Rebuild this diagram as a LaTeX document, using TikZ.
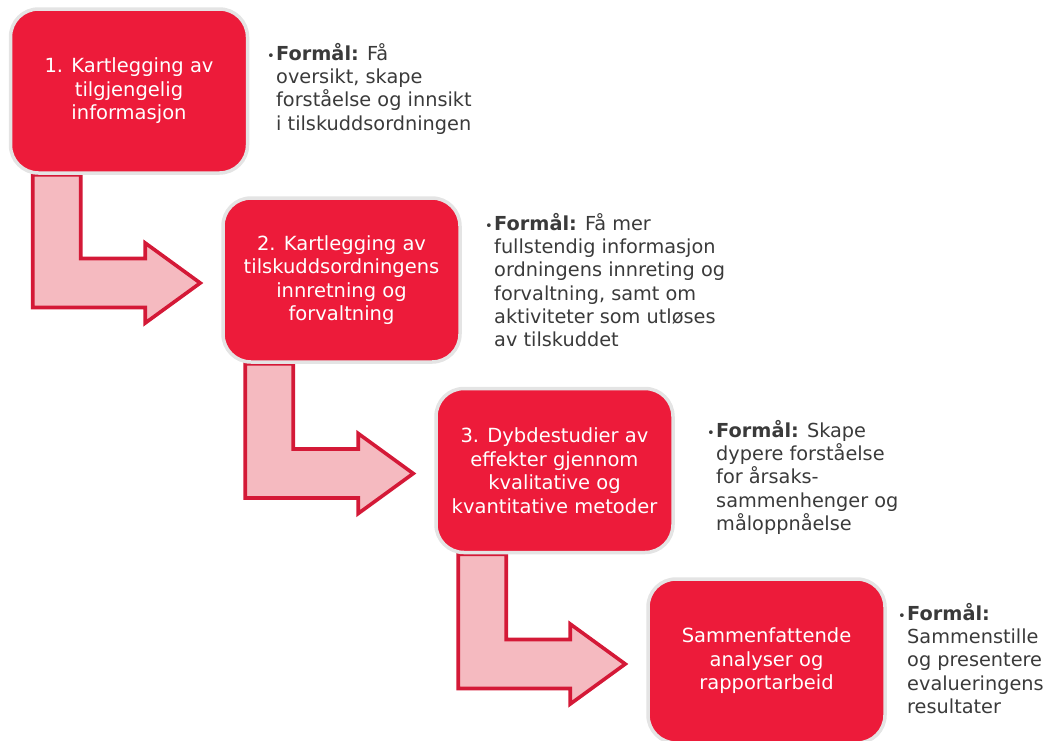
\documentclass[tikz,border=0pt]{standalone}
\usepackage{fontspec}
\setmainfont{DejaVu Sans}
\usetikzlibrary{calc}
\definecolor{crimson}{HTML}{ED1B3A}
\definecolor{arrowline}{HTML}{D41937}
\definecolor{arrowfill}{HTML}{F5BAC0}
\definecolor{rimgray}{HTML}{E4E4E4}
\definecolor{txtgray}{HTML}{3A3A3A}
\pgfdeclarelayer{background}
\pgfsetlayers{background,main}
\tikzset{
  stagebox/.style={rectangle, rounded corners=28pt, fill=crimson, draw=rimgray,
    line width=3.5pt, minimum width=237pt, minimum height=164pt, inner sep=0pt,
    text=white, align=center, font=\fontsize{19.5}{23.5}\selectfont},
  purpose/.style={anchor=north west, inner sep=0pt, align=left, text=txtgray,
    font=\fontsize{19.3}{23.3}\selectfont},
  dot/.style={anchor=base east, inner sep=0pt, text=txtgray, font=\fontsize{13}{14}\selectfont},
  blockarrow/.style={draw=arrowline, fill=arrowfill, line width=3.6pt, line join=miter}
}
\newcommand{\firstline}{\rule{0pt}{15pt}}
\begin{document}
\begin{tikzpicture}[x=1pt,y=-1pt]
\useasboundingbox (0,0) rectangle (1046,740);
\node[stagebox] (b1) at (129,91) {1. Kartlegging av\\tilgjengelig\\informasjon};
\node[stagebox] (b2) at (341.5,280) {2. Kartlegging av\\tilskuddsordningens\\innretning og\\forvaltning};
\node[stagebox] (b3) at (554.5,470.5) {3. Dybdestudier av\\effekter gjennom\\kvalitative og\\kvantitative metoder};
\node[stagebox] (b4) at (766.5,661) {Sammenfattende\\analyser og\\rapportarbeid};

\node[purpose] (t1) at (276,43) {\firstline\textbf{Formål:} Få\\oversikt, skape\\forståelse og innsikt\\i tilskuddsordningen};
\node[purpose] (t2) at (494,213) {\firstline\textbf{Formål:} Få mer\\fullstendig informasjon\\ordningens innreting og\\forvaltning, samt om\\aktiviteter som utløses\\av tilskuddet};
\node[purpose] (t3) at (716,420) {\firstline\textbf{Formål:} Skape\\dypere forståelse\\for årsaks-\\sammenhenger og\\måloppnåelse};
\node[purpose] (t4) at (907,603) {\firstline\textbf{Formål:}\\Sammenstille\\og presentere\\evalueringens\\resultater};
\node[dot] (d1) at ([xshift=-1pt,yshift=-17pt]t1.north west) {•};
\node[dot] (d2) at ([xshift=-1pt,yshift=-17pt]t2.north west) {•};
\node[dot] (d3) at ([xshift=-1pt,yshift=-17pt]t3.north west) {•};
\node[dot] (d4) at ([xshift=-1pt,yshift=-17pt]t4.north west) {•};

\begin{pgfonlayer}{background}
\foreach \s/\e in {b1/b2,b2/b3,b3/b4}{
\draw[blockarrow] let \p1=(\s.south west), \p2=(\e.west) in
  (\x1+24pt,\y1) -- (\x1+72pt,\y1) -- (\x1+72pt,\y2-3pt+24.5pt)
  -- (\x2-76pt,\y2-3pt+24.5pt) -- (\x2-76pt,\y2-3pt+40pt) -- (\x2-21pt,\y2-3pt)
  -- (\x2-76pt,\y2-3pt-40pt) -- (\x2-76pt,\y2-3pt-24.5pt)
  -- (\x1+24pt,\y2-3pt-24.5pt) -- cycle;
}
\end{pgfonlayer}
\end{tikzpicture}
\end{document}
